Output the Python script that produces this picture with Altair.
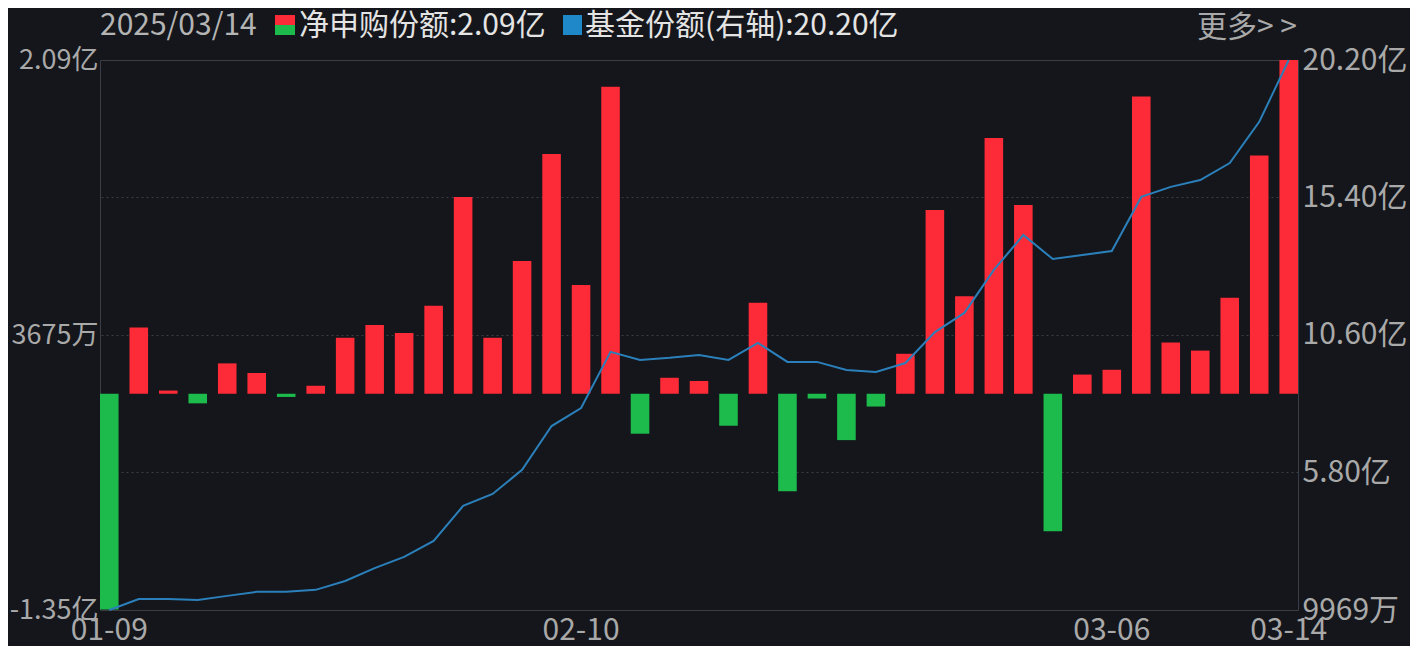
import altair as alt
import pandas as pd

# ---------------- data ----------------
dates = [
    "01-09", "01-10", "01-13", "01-14", "01-15", "01-16", "01-17", "01-20", "01-21",
    "01-22", "01-23", "01-24", "01-27",
    "02-05", "02-06", "02-07", "02-10", "02-11", "02-12", "02-13", "02-14", "02-17",
    "02-18", "02-19", "02-20", "02-21", "02-24", "02-25", "02-26", "02-27", "02-28",
    "03-03", "03-04", "03-05", "03-06", "03-07", "03-10", "03-11", "03-12", "03-13", "03-14",
]
# net subscription (亿)
net = [
    -1.35, 0.415, 0.02, -0.06, 0.19, 0.13, -0.02, 0.05, 0.35, 0.43, 0.38, 0.55, 1.23,
    0.35, 0.83, 1.50, 0.68, 1.92, -0.25, 0.10, 0.08, -0.20, 0.57, -0.61, -0.03, -0.29,
    -0.08, 0.25, 1.15, 0.61, 1.60, 1.18, -0.86, 0.12, 0.15, 1.86, 0.32, 0.27, 0.60, 1.49, 2.09,
]
# fund shares (亿), right axis
share = [
    0.9969, 1.38, 1.38, 1.35, 1.49, 1.63, 1.63, 1.70, 2.01, 2.46, 2.85, 3.41, 4.63,
    5.05, 5.89, 7.42, 8.05, 10.01, 9.73, 9.80, 9.90, 9.73, 10.32, 9.66, 9.66, 9.38,
    9.31, 9.62, 10.70, 11.37, 12.87, 14.09, 13.25, 13.39, 13.53, 15.42, 15.77, 16.01,
    16.60, 18.04, 20.20,
]

x_ticks = ["01-09", "02-10", "03-06", "03-14"]
left_domain = [-1.3526, 2.0876]
left_ticks = [-1.3526, 0.3675, 2.0876]
right_domain = [0.9969, 20.20]
right_ticks = [0.9969, 5.80, 10.60, 15.40, 20.20]

header_date = "2025/03/14"
header_net = "净申购份额:2.09亿"
header_share = "基金份额(右轴):20.20亿"
more_text = "更多> >"

# ---------------- style ----------------
FONT = "Noto Sans CJK SC"
BG = "#14161b"
RED = "#fc2b37"
GREEN = "#1dbb4c"
BLUE = "#2b80bb"
SQ_BLUE = "#1f88c9"
GRID = "#3a3d45"
LABEL = "#a9a9a9"
FS = 30

df = pd.DataFrame({"date": dates, "net": net, "share": share})
df["sign"] = ["up" if v >= 0 else "down" for v in net]

label_expr = (
    "(datum.value < 0 ? '-' : '') + (abs(datum.value) >= 1 ? "
    "format(abs(datum.value), '.2f') + '亿' : "
    "format(abs(datum.value) * 10000, '.0f') + '万')"
)

x_enc = alt.X(
    "date:N",
    sort=None,
    scale=alt.Scale(paddingInner=0.37, paddingOuter=0),
    axis=alt.Axis(
        values=x_ticks, labelAngle=0, title=None, domain=False, ticks=False,
        labelPadding=5, labelFlush=False, labelOverlap=False, grid=False,
    ),
)

bars = alt.Chart(df).mark_bar(clip=True).encode(
    x=x_enc,
    y=alt.Y(
        "net:Q",
        scale=alt.Scale(domain=left_domain, nice=False, zero=False),
        axis=alt.Axis(
            orient="left", values=left_ticks, labelExpr=label_expr, grid=False,
            title=None, domain=False, ticks=False, labelPadding=2,
            labelFontSize=27, labelFlush=False, labelOverlap=False,
        ),
    ),
    color=alt.Color("sign:N", scale=alt.Scale(domain=["up", "down"], range=[RED, GREEN]), legend=None),
)

line = alt.Chart(df).mark_line(color=BLUE, strokeWidth=2).encode(
    x=x_enc,
    y=alt.Y(
        "share:Q",
        scale=alt.Scale(domain=right_domain, nice=False, zero=False),
        axis=alt.Axis(
            orient="right", values=right_ticks, labelExpr=label_expr, grid=True,
            gridDash=[2, 3], gridColor=GRID, gridWidth=1, title=None, domain=False,
            ticks=False, labelPadding=4, labelFlush=False, labelOverlap=False,
        ),
    ),
)

one = pd.DataFrame({"t": [""]})


def text_layer(s, xpos, ypos, color, align="left"):
    return alt.Chart(pd.DataFrame({"t": [s]})).mark_text(
        align=align, baseline="alphabetic", font=FONT, fontSize=FS, color=color
    ).encode(text="t:N", x=alt.value(xpos), y=alt.value(ypos))


def square(color, x0, x1, y0, y1):
    return alt.Chart(one).mark_rect(color=color).encode(
        x=alt.value(x0), x2=alt.value(x1), y=alt.value(y0), y2=alt.value(y1)
    )


headers = [
    text_layer(header_date, 0, -25, "#b4b4b4"),
    square(RED, 175, 195, -45, -35),
    square(GREEN, 175, 195, -35, -25),
    text_layer(header_net, 199, -25, "#e4e4e4"),
    square(SQ_BLUE, 463, 482, -45, -25),
    text_layer(header_share, 485, -25, "#e4e4e4"),
    text_layer(more_text, 1197, -23, "#a9a9a9", align="right"),
]

chart = (
    alt.layer(bars, line, *headers)
    .resolve_scale(y="independent")
    .properties(
        width=1198,
        height=550,
        padding={"left": 92, "top": 52, "right": 112, "bottom": 36},
        autosize=alt.AutoSizeParams(type="none"),
    )
    .configure(background=BG, font=FONT)
    .configure_view(stroke=GRID, strokeWidth=1)
    .configure_axis(labelFont=FONT, labelFontSize=FS, labelColor=LABEL)
)

chart.save("out.html", embed_options={"renderer": "svg", "actions": False})
